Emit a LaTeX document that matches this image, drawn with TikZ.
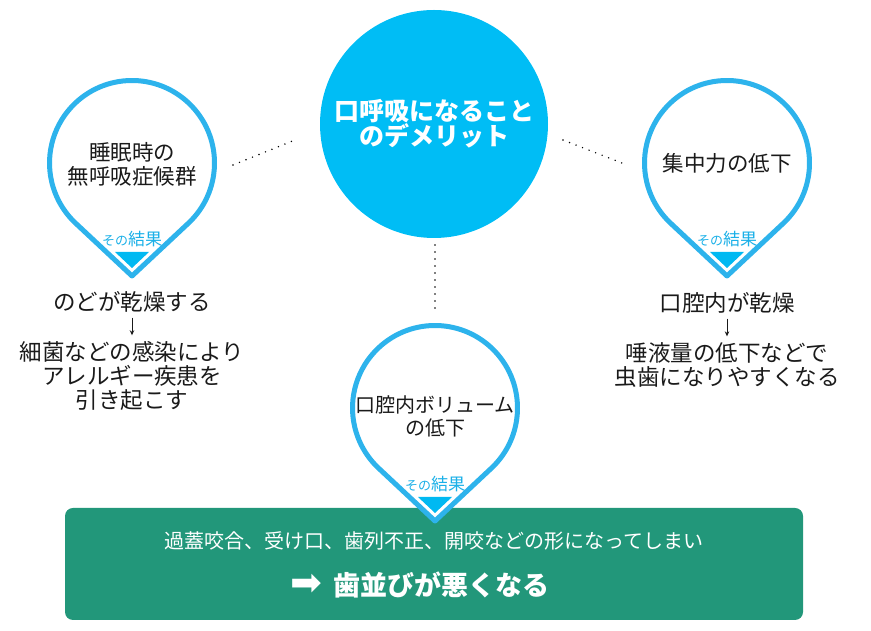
\documentclass[tikz,border=0pt]{standalone}
\usepackage{fontspec}
\setmainfont{Noto Sans CJK JP}
\newfontfamily\arrowfont{DejaVu Sans}
\usetikzlibrary{arrows.meta}
\definecolor{pinblue}{HTML}{2DB3EC}
\definecolor{mainblue}{HTML}{00BDF5}
\definecolor{tipblue}{HTML}{00B9F2}
\definecolor{labelblue}{HTML}{1AB0E8}
\definecolor{boxgreen}{HTML}{22977A}
\definecolor{inkblack}{HTML}{1A1A1A}
\tikzset{
  pinline/.style={draw=pinblue, line width=5pt, fill=white, line join=round},
  pintext/.style={align=center, text=inkblack, inner sep=0pt, font=\fontsize{21.5}{24}\selectfont},
  restext/.style={align=center, text=inkblack, inner sep=0pt, font=\fontsize{22.5}{24}\selectfont},
  dotline/.style={line width=1.6pt, line cap=round, dash pattern=on 0pt off 7pt},
  resarrow/.style={-{Stealth[length=5pt,width=4.5pt]}, line width=0.9pt, inkblack, shorten <=5pt, shorten >=6pt},
  pics/droppin/.style={code={
    \draw[pinline] (-46.9:82.5) arc[start angle=-46.9, end angle=226.9, radius=82.5] -- (0,-113) -- cycle;
    \fill[tipblue] (-17,-89) -- (17,-89) -- (0,-105) -- cycle;
    \node[text=labelblue, inner sep=0pt] (label) at (0,-76) {{\fontsize{13}{13}\selectfont その}{\fontsize{17}{17}\selectfont 結果}};
  }}
}
\begin{document}
\begin{tikzpicture}[x=1pt,y=1pt]
\useasboundingbox (0,0) rectangle (871,631);
% dotted links
\coordinate (ldot1) at (233,466);
\coordinate (ldot2) at (295,491);
\coordinate (rdot1) at (563,491);
\coordinate (rdot2) at (627,466);
\coordinate (mdot1) at (435,386);
\coordinate (mdot2) at (435,319);
\draw[dotline] (ldot1) -- (ldot2);
\draw[dotline] (rdot1) -- (rdot2);
\draw[dotline] (mdot1) -- (mdot2);
% main circle
\node[circle, fill=mainblue, minimum size=228pt, inner sep=0pt, align=center, text=white,
  font=\bfseries\fontsize{25}{23}\selectfont] (main) at (434,507) {口呼吸になること\\のデメリット};
% result box
\node[fill=boxgreen, rounded corners=8pt, minimum width=738pt, minimum height=112pt] (gbox) at (434,67) {};
\node[text=white, inner sep=0pt, font=\fontsize{20}{20}\selectfont] (gline1) at (434,90) {過蓋咬合、受け口、歯列不正、開咬などの形になってしまい};
\node[text=white, inner sep=0pt] (gline2) at (420,46) {{\arrowfont\fontsize{38}{38}\selectfont ➡}\hspace{12pt}{\bfseries\fontsize{27}{27}\selectfont 歯並びが悪くなる}};
% pins
\pic (lpin) at (132,468) {droppin};
\pic (rpin) at (727,468) {droppin};
\pic (mpin) at (435,223) {droppin};
\node[pintext] (lpintext) at (132,466.5) {睡眠時の\\無呼吸症候群};
\node[pintext] (rpintext) at (727,468) {集中力の低下};
\node[pintext, font=\fontsize{20}{23}\selectfont] (mpintext) at (435,214.5) {口腔内ボリューム\\の低下};
% results
\node[restext] (lres1) at (132,329) {のどが乾燥する};
\node[restext] (lres2) at (132,255) {細菌などの感染により\\アレルギー疾患を\\引き起こす};
\node[restext] (rres1) at (727,328) {口腔内が乾燥};
\node[restext] (rres2) at (727,266) {唾液量の低下などで\\虫歯になりやすくなる};
\draw[resarrow] (lres1) -- (lres2);
\draw[resarrow] (rres1) -- (rres2);
\end{tikzpicture}
\end{document}
